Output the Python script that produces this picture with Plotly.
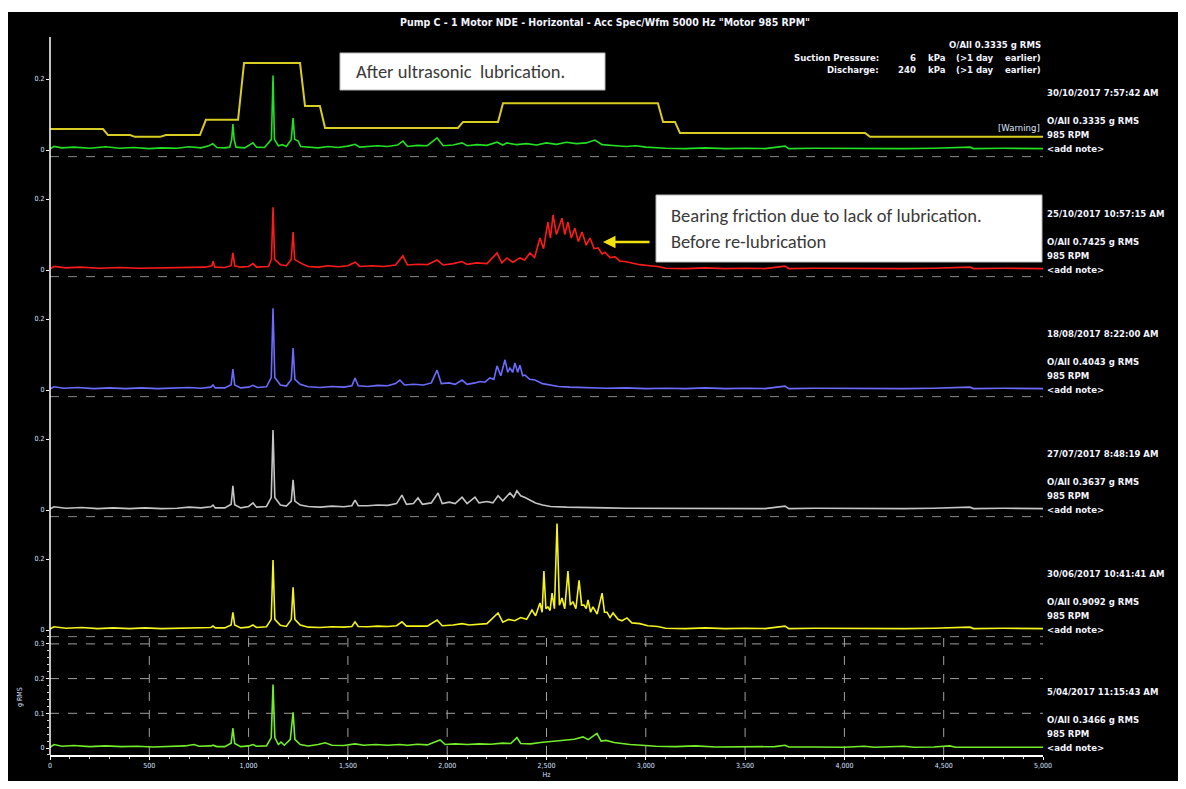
import plotly.graph_objects as go

# ---------------- DATA ----------------
freq_range = [0, 5000]
x_tick_vals = [0, 500, 1000, 1500, 2000, 2500, 3000, 3500, 4000, 4500, 5000]
x_tick_text = ["0", "500", "1,000", "1,500", "2,000", "2,500", "3,000", "3,500", "4,000", "4,500", "5,000"]
bottom_y_ticks = [0, 0.1, 0.2, 0.3]
bottom_y_text = ["0", "0.1", "0.2", "0.3"]
upper_y_ticks = [0, 0.2]
upper_y_text = ["0", "0.2"]

panel_dates = ["30/10/2017 7:57:42 AM", "25/10/2017 10:57:15 AM", "18/08/2017 8:22:00 AM",
               "27/07/2017 8:48:19 AM", "30/06/2017 10:41:41 AM", "5/04/2017 11:15:43 AM"]
panel_overall = ["O/All 0.3335 g RMS", "O/All 0.7425 g RMS", "O/All 0.4043 g RMS",
                 "O/All 0.3637 g RMS", "O/All 0.9092 g RMS", "O/All 0.3466 g RMS"]
panel_rpm = "985 RPM"
panel_note = "<add note>"

title_text = 'Pump C - 1 Motor NDE - Horizontal - Acc Spec/Wfm 5000 Hz "Motor 985 RPM"'
header_overall = "O/All 0.3335 g RMS"
header_rows = [("Suction Pressure:", "6"), ("Discharge:", "240")]

# alarm band (top panel)
alarm_hz = [0, 267, 292, 403, 428, 554, 584, 755, 785, 947, 977, 1259, 1284, 1359, 1385,
            2054, 2080, 2256, 2281, 3061, 3087, 3147, 3172, 4104, 4129, 5000]
alarm_g = [0.059, 0.059, 0.042, 0.042, 0.037, 0.037, 0.042, 0.042, 0.085, 0.085, 0.245, 0.245, 0.124, 0.124, 0.062,
           0.062, 0.079, 0.079, 0.132, 0.132, 0.079, 0.079, 0.048, 0.048, 0.037, 0.037]

tail_common = [(3100, 0.005), (3200, 0.004), (3300, 0.006), (3400, 0.004), (3500, 0.005), (3600, 0.004),
               (3701, 0.011), (3720, 0.004), (3850, 0.005), (4000, 0.004), (4150, 0.005), (4300, 0.004),
               (4450, 0.005), (4632, 0.008), (4650, 0.004), (4800, 0.005), (5000, 0.004)]

spec_30_10 = [(0, 0.003), (20, 0.010), (60, 0.006), (120, 0.008), (200, 0.005), (280, 0.009), (350, 0.005),
              (420, 0.007), (500, 0.004), (560, 0.006), (640, 0.005), (700, 0.009), (760, 0.006), (800, 0.012),
              (820, 0.018), (840, 0.007), (880, 0.006), (905, 0.008), (915, 0.03), (921, 0.073), (927, 0.03),
              (937, 0.008), (980, 0.006), (1000, 0.012), (1022, 0.02), (1040, 0.008), (1080, 0.007),
              (1115, 0.03), (1123, 0.21), (1130, 0.03), (1150, 0.012), (1170, 0.015), (1190, 0.01),
              (1215, 0.03), (1224, 0.09), (1232, 0.03), (1250, 0.025), (1262, 0.01), (1300, 0.008),
              (1350, 0.006), (1400, 0.01), (1450, 0.007), (1500, 0.011), (1536, 0.016), (1560, 0.008),
              (1600, 0.009), (1650, 0.012), (1700, 0.01), (1750, 0.014), (1777, 0.025), (1800, 0.01),
              (1850, 0.013), (1900, 0.012), (1949, 0.034), (1980, 0.012), (2030, 0.014), (2075, 0.02),
              (2100, 0.012), (2150, 0.015), (2200, 0.013), (2251, 0.022), (2280, 0.014), (2301, 0.02),
              (2350, 0.015), (2400, 0.018), (2450, 0.014), (2500, 0.02), (2550, 0.016), (2600, 0.022),
              (2650, 0.018), (2700, 0.02), (2744, 0.028), (2780, 0.015), (2850, 0.012), (2900, 0.01),
              (2950, 0.012), (3000, 0.008)] + tail_common

spec_25_10 = [(0, 0.003), (20, 0.01), (80, 0.006), (150, 0.008), (250, 0.005), (350, 0.007), (450, 0.005),
              (550, 0.006), (650, 0.007), (720, 0.009), (780, 0.008), (815, 0.012), (821, 0.025), (830, 0.008),
              (880, 0.007), (912, 0.012), (921, 0.048), (930, 0.012), (960, 0.008), (1000, 0.01),
              (1022, 0.018), (1040, 0.008), (1100, 0.01), (1115, 0.03), (1123, 0.177), (1131, 0.03),
              (1160, 0.015), (1190, 0.012), (1215, 0.03), (1224, 0.107), (1232, 0.03), (1260, 0.02),
              (1300, 0.01), (1350, 0.008), (1400, 0.012), (1450, 0.009), (1500, 0.012), (1536, 0.022),
              (1560, 0.01), (1620, 0.012), (1680, 0.01), (1740, 0.014), (1777, 0.04), (1800, 0.014),
              (1850, 0.016), (1900, 0.015), (1949, 0.028), (1980, 0.014), (2030, 0.018), (2075, 0.024),
              (2100, 0.016), (2150, 0.02), (2200, 0.018), (2251, 0.048), (2275, 0.02), (2301, 0.034),
              (2330, 0.022), (2366, 0.034), (2390, 0.028), (2417, 0.048), (2440, 0.035), (2467, 0.09),
              (2485, 0.06), (2507, 0.135), (2520, 0.09), (2533, 0.155), (2550, 0.1), (2578, 0.146),
              (2592, 0.1), (2608, 0.135), (2625, 0.09), (2643, 0.118), (2660, 0.08), (2679, 0.107),
              (2700, 0.07), (2719, 0.09), (2740, 0.06), (2760, 0.062), (2780, 0.045), (2794, 0.05),
              (2820, 0.035), (2845, 0.037), (2870, 0.025), (2895, 0.024), (2930, 0.02), (2970, 0.015),
              (3020, 0.012), (3060, 0.01)] + tail_common

spec_18_08 = [(0, 0.003), (20, 0.009), (70, 0.005), (140, 0.007), (220, 0.004), (300, 0.006), (380, 0.004),
              (460, 0.006), (540, 0.004), (620, 0.005), (700, 0.007), (760, 0.005), (810, 0.008),
              (821, 0.014), (832, 0.006), (880, 0.006), (912, 0.015), (921, 0.059), (930, 0.014),
              (960, 0.006), (1000, 0.008), (1022, 0.013), (1045, 0.007), (1090, 0.009), (1114, 0.035),
              (1123, 0.23), (1132, 0.035), (1160, 0.014), (1190, 0.011), (1215, 0.03), (1224, 0.118),
              (1233, 0.03), (1260, 0.016), (1300, 0.009), (1360, 0.007), (1420, 0.01), (1480, 0.008),
              (1520, 0.012), (1536, 0.034), (1552, 0.012), (1600, 0.01), (1650, 0.013), (1700, 0.012),
              (1740, 0.018), (1762, 0.028), (1785, 0.014), (1830, 0.016), (1880, 0.014), (1920, 0.02),
              (1949, 0.056), (1970, 0.018), (2010, 0.02), (2040, 0.016), (2075, 0.028), (2100, 0.016),
              (2140, 0.02), (2165, 0.024), (2190, 0.022), (2215, 0.034), (2235, 0.03), (2251, 0.068),
              (2270, 0.04), (2291, 0.085), (2305, 0.05), (2316, 0.062), (2330, 0.05), (2341, 0.076),
              (2355, 0.05), (2366, 0.07), (2380, 0.04), (2392, 0.042), (2415, 0.03), (2442, 0.028),
              (2480, 0.018), (2518, 0.014), (2560, 0.01), (2618, 0.008), (2700, 0.006), (2800, 0.005),
              (2900, 0.006), (3000, 0.004)] + tail_common

spec_27_07 = [(0, 0.003), (20, 0.009), (80, 0.005), (160, 0.007), (240, 0.004), (320, 0.006), (400, 0.004),
              (480, 0.006), (560, 0.004), (640, 0.005), (700, 0.008), (760, 0.006), (810, 0.009),
              (821, 0.014), (832, 0.006), (880, 0.006), (912, 0.016), (921, 0.068), (930, 0.015),
              (960, 0.006), (1000, 0.01), (1022, 0.02), (1040, 0.008), (1090, 0.01), (1114, 0.035),
              (1123, 0.225), (1132, 0.035), (1160, 0.014), (1190, 0.011), (1215, 0.025), (1224, 0.085),
              (1233, 0.025), (1260, 0.014), (1300, 0.01), (1360, 0.008), (1420, 0.011), (1480, 0.009),
              (1520, 0.012), (1536, 0.028), (1552, 0.012), (1600, 0.012), (1650, 0.014), (1700, 0.013),
              (1745, 0.018), (1772, 0.042), (1795, 0.016), (1830, 0.018), (1853, 0.034), (1875, 0.016),
              (1920, 0.02), (1954, 0.048), (1975, 0.018), (2010, 0.022), (2040, 0.018), (2075, 0.036),
              (2100, 0.018), (2140, 0.036), (2160, 0.02), (2200, 0.024), (2230, 0.02), (2256, 0.04),
              (2280, 0.026), (2316, 0.048), (2335, 0.036), (2351, 0.054), (2370, 0.04), (2392, 0.035),
              (2420, 0.026), (2445, 0.02), (2480, 0.014), (2520, 0.01), (2600, 0.008), (2700, 0.006),
              (2800, 0.006), (2900, 0.005), (3000, 0.005)] + tail_common

spec_30_06 = [(0, 0.003), (20, 0.009), (80, 0.005), (160, 0.007), (240, 0.004), (320, 0.006), (400, 0.004),
              (480, 0.006), (560, 0.004), (640, 0.005), (700, 0.007), (760, 0.006), (810, 0.007),
              (821, 0.011), (832, 0.006), (880, 0.006), (912, 0.014), (921, 0.05), (930, 0.014),
              (960, 0.006), (1000, 0.008), (1022, 0.014), (1040, 0.007), (1090, 0.009), (1114, 0.03),
              (1123, 0.197), (1132, 0.03), (1160, 0.013), (1190, 0.01), (1215, 0.03), (1224, 0.12),
              (1233, 0.03), (1260, 0.014), (1300, 0.008), (1360, 0.007), (1420, 0.009), (1480, 0.008),
              (1520, 0.01), (1536, 0.023), (1552, 0.01), (1600, 0.009), (1650, 0.011), (1700, 0.01),
              (1745, 0.012), (1772, 0.023), (1795, 0.011), (1850, 0.012), (1900, 0.011), (1949, 0.028),
              (1975, 0.012), (2030, 0.014), (2075, 0.018), (2110, 0.014), (2160, 0.016), (2200, 0.018),
              (2256, 0.048), (2280, 0.022), (2310, 0.03), (2340, 0.026), (2370, 0.035), (2400, 0.03),
              (2427, 0.056), (2445, 0.04), (2467, 0.076), (2478, 0.05), (2487, 0.166), (2497, 0.06),
              (2507, 0.065), (2518, 0.055), (2528, 0.104), (2540, 0.06), (2553, 0.30), (2565, 0.07),
              (2578, 0.09), (2592, 0.06), (2608, 0.166), (2620, 0.07), (2633, 0.08), (2648, 0.06),
              (2664, 0.14), (2677, 0.07), (2689, 0.07), (2700, 0.06), (2709, 0.085), (2722, 0.05),
              (2734, 0.065), (2755, 0.045), (2780, 0.104), (2792, 0.05), (2805, 0.05), (2820, 0.035),
              (2835, 0.048), (2860, 0.03), (2880, 0.026), (2905, 0.034), (2930, 0.02), (2970, 0.018),
              (3010, 0.012), (3060, 0.01)] + tail_common

spec_05_04 = [(0, 0.002), (20, 0.01), (60, 0.005), (120, 0.007), (200, 0.004), (280, 0.006), (360, 0.004),
              (440, 0.005), (520, 0.003), (600, 0.005), (680, 0.006), (725, 0.01), (750, 0.005), (810, 0.006),
              (821, 0.008), (840, 0.004), (880, 0.004), (912, 0.014), (921, 0.057), (930, 0.013), (960, 0.004),
              (1000, 0.006), (1022, 0.01), (1040, 0.005), (1090, 0.006), (1114, 0.03), (1123, 0.183),
              (1132, 0.03), (1150, 0.01), (1163, 0.017), (1180, 0.008), (1210, 0.025), (1224, 0.103),
              (1233, 0.025), (1260, 0.01), (1300, 0.006), (1350, 0.01), (1385, 0.015), (1420, 0.008),
              (1480, 0.007), (1536, 0.012), (1580, 0.008), (1640, 0.01), (1700, 0.008), (1760, 0.01),
              (1800, 0.008), (1850, 0.011), (1900, 0.009), (1964, 0.023), (1990, 0.01), (2040, 0.012),
              (2100, 0.01), (2160, 0.012), (2220, 0.011), (2280, 0.014), (2320, 0.013), (2351, 0.03),
              (2370, 0.013), (2420, 0.012), (2470, 0.016), (2520, 0.018), (2560, 0.02), (2600, 0.022),
              (2640, 0.025), (2684, 0.032), (2710, 0.024), (2754, 0.042), (2775, 0.02), (2800, 0.022),
              (2840, 0.016), (2880, 0.013), (2920, 0.01), (2980, 0.008), (3050, 0.005), (3150, 0.004),
              (3250, 0.006), (3350, 0.003), (3450, 0.004), (3550, 0.003), (3650, 0.004), (3701, 0.008),
              (3720, 0.003), (3850, 0.003), (4000, 0.002), (4100, 0.005), (4150, 0.002), (4300, 0.005),
              (4350, 0.002), (4450, 0.003), (4530, 0.006), (4560, 0.002), (4700, 0.002), (4800, 0.003),
              (5000, 0.002)]

spectra = [spec_30_10, spec_25_10, spec_18_08, spec_27_07, spec_30_06, spec_05_04]

# ---------------- STYLE / LAYOUT ----------------
W, H = 1186, 789
PAGE_OFF = 8          # default body margin of the html page
X_LEFT, X_RIGHT = 50, 1043
colors = ["#22e022", "#ff1a1a", "#6b6bff", "#c4c4c4", "#f4f41a", "#72ee28"]
alarm_color = "#d9cc22"
label_font = "Liberation Sans Narrow, Arial Narrow, DejaVu Sans Condensed, sans-serif"
box_font = "Carlito, Calibri, Lato, sans-serif"
txt_color = "#f2f4ff"
tick_color = "#d8e0ff"
LBL = 9.5


def fx(xp):
    return (xp - PAGE_OFF) / W


def fy(yp):
    return 1 - (yp - PAGE_OFF) / H


zero_px = [150, 270, 390, 510, 630, 748]
scale_px = [355, 355, 355, 355, 355, 347]   # px per g
y_ranges = [[-0.021, 0.31]] * 5 + [[-0.02, 0.32]]

fig = go.Figure()
layout = dict(
    width=W, height=H, autosize=False,
    margin=dict(l=0, r=0, t=0, b=0, pad=0),
    paper_bgcolor="white", plot_bgcolor="rgba(0,0,0,0)",
    showlegend=False,
)

shapes = []
annotations = []


def label(txt, xp, yp, anchor="left", size=LBL, color=txt_color, bold=True, family=label_font):
    t = txt.replace("<", "&lt;").replace(">", "&gt;")
    if bold:
        t = "<b>" + t + "</b>"
    annotations.append(dict(xref="paper", yref="paper", x=fx(xp), y=fy(yp), xanchor=anchor,
                            yanchor="middle", showarrow=False, text=t,
                            font=dict(size=size, color=color, family=family)))


# black instrument screen background
shapes.append(dict(type="rect", xref="paper", yref="paper", x0=fx(5), x1=fx(1181), y0=fy(781), y1=fy(12),
                   fillcolor="black", line=dict(width=0), layer="below"))

for k in range(6):
    n = k + 1
    xa = "xaxis" if n == 1 else f"xaxis{n}"
    ya = "yaxis" if n == 1 else f"yaxis{n}"
    xr = "x" if n == 1 else f"x{n}"
    yr = "y" if n == 1 else f"y{n}"
    lo, hi = y_ranges[k]
    bot_px = zero_px[k] - lo * scale_px[k]
    top_px = zero_px[k] - hi * scale_px[k]
    dom = [fy(bot_px), fy(top_px)]
    last = (k == 5)
    layout[xa] = dict(domain=[fx(X_LEFT), fx(X_RIGHT)], range=freq_range, anchor=yr, automargin=False,
                      visible=last, showgrid=False, zeroline=False)
    if last:
        layout[xa].update(dict(
            showline=True, linecolor="white", linewidth=2,
            tickvals=x_tick_vals, ticktext=x_tick_text, ticks="outside", ticklen=3, tickcolor="white",
            tickfont=dict(size=7, color=tick_color, family=label_font),
            minor=dict(dtick=100, ticks="outside", ticklen=2, tickcolor="#dddddd"),
            title=dict(text="Hz", font=dict(size=7, color=tick_color, family=label_font), standoff=3),
        ))
    layout[ya] = dict(domain=dom, range=[lo, hi], anchor=xr, showgrid=False, zeroline=False, automargin=False,
                      showline=False, ticks="outside", ticklen=3, tickcolor="white",
                      tickvals=bottom_y_ticks if last else upper_y_ticks,
                      ticktext=bottom_y_text if last else upper_y_text,
                      tickfont=dict(size=7, color=tick_color, family=label_font))
    if last:
        layout[ya]["minor"] = dict(dtick=0.02, ticks="outside", ticklen=2, tickcolor="#dddddd")

    fx_vals = [p[0] for p in spectra[k]]
    fy_vals = [p[1] for p in spectra[k]]
    fig.add_trace(go.Scatter(x=fx_vals, y=fy_vals, mode="lines", xaxis=xr, yaxis=yr,
                             line=dict(color=colors[k], width=1.6), hoverinfo="skip"))
    if not last:
        shapes.append(dict(type="line", xref=xr, yref=yr, x0=freq_range[0], x1=freq_range[1],
                           y0=-0.019, y1=-0.019, line=dict(color="#9a9a9a", width=1, dash="dash")))

    # right-hand labels
    z = zero_px[k]
    label(panel_dates[k], 1045, z - 57)
    label(panel_overall[k], 1045, z - 29)
    label(panel_rpm, 1045, z - 15)
    label(panel_note, 1045, z - 1)

# alarm band on the top panel
fig.add_trace(go.Scatter(x=alarm_hz, y=alarm_g, mode="lines", xaxis="x", yaxis="y",
                         line=dict(color=alarm_color, width=2), hoverinfo="skip"))

# grid for bottom panel
for v in x_tick_vals[1:-1]:
    shapes.append(dict(type="line", xref="x6", yref="y6", x0=v, x1=v, y0=y_ranges[5][0], y1=y_ranges[5][1],
                       line=dict(color="#a0a0a0", width=1, dash="dash"), layer="below"))
for v in bottom_y_ticks[1:]:
    shapes.append(dict(type="line", xref="x6", yref="y6", x0=freq_range[0], x1=freq_range[1], y0=v, y1=v,
                       line=dict(color="#a0a0a0", width=1, dash="dash"), layer="below"))

# long left axis line
shapes.append(dict(type="line", xref="paper", yref="paper", x0=fx(X_LEFT), x1=fx(X_LEFT), y0=fy(755), y1=fy(37),
                   line=dict(color="white", width=1.5)))

# title & header text
label(title_text, 605, 22, anchor="center", size=10.5)
label(header_overall, 1043, 45, anchor="right")
for i, (lab, val) in enumerate(header_rows):
    yy = 58 + 12 * i
    label(lab, 881, yy, anchor="right")
    label(val, 918, yy, anchor="right")
    label("kPa", 926, yy)
    label("(>1 day", 954, yy)
    label("earlier)", 1043, yy, anchor="right")

label("[Warning]", 1042, 127, anchor="right", size=9.5, color="#dfe6ff", bold=False)

# y-axis title
annotations.append(dict(xref="paper", yref="paper", x=fx(20), y=fy(697), xanchor="center", yanchor="middle",
                        showarrow=False, text="g RMS", textangle=-90,
                        font=dict(size=7, color=tick_color, family=label_font)))

# comment boxes
shapes.append(dict(type="rect", xref="paper", yref="paper", x0=fx(340), x1=fx(605), y0=fy(90), y1=fy(53),
                   fillcolor="white", line=dict(color="#b8b8b8", width=1), layer="above"))
label("After ultrasonic  lubrication.", 354, 72, size=18.5, color="#3a3a3a", bold=False, family=box_font)
shapes.append(dict(type="rect", xref="paper", yref="paper", x0=fx(656), x1=fx(1042), y0=fy(262), y1=fy(195),
                   fillcolor="white", line=dict(color="#b8b8b8", width=1), layer="above"))
label("Bearing friction due to lack of lubrication.", 669, 215, size=18.5, color="#3a3a3a", bold=False,
      family=box_font)
label("Before re-lubrication", 669, 241, size=18.5, color="#3a3a3a", bold=False, family=box_font)
annotations.append(dict(xref="paper", yref="paper", x=fx(603), y=fy(242), ax=48, ay=0, showarrow=True,
                        arrowhead=2, arrowsize=1, arrowwidth=2.5, arrowcolor="#f2e20c", text=""))

layout["shapes"] = shapes
layout["annotations"] = annotations
fig.update_layout(**layout)
fig.write_html("out.html")
